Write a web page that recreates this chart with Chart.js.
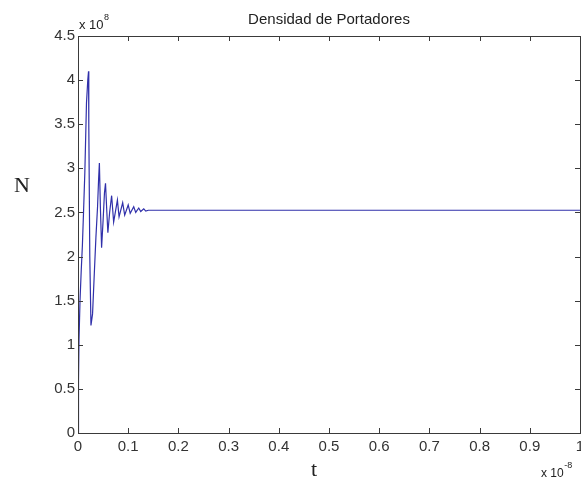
<!DOCTYPE html>
<html>
<head>
<meta charset="utf-8">
<script src="https://cdn.jsdelivr.net/npm/chart.js@4.4.1/dist/chart.umd.min.js"></script>
<style>
  html, body { margin: 0; padding: 0; background: #fff; }
  #wrap { width: 581px; height: 483px; position: relative; }
</style>
</head>
<body>
<div id="wrap"><canvas id="lineChart"></canvas></div>
<script>
// time (x 1e-8 s) and carrier density (x 1e8)
const tVals = [
  0, 0.001, 0.002, 0.004, 0.0065, 0.0087, 0.011, 0.0136, 0.0169, 0.0195, 0.021,
  0.0215, 0.0235, 0.0258, 0.029, 0.0325, 0.0357, 0.039, 0.041, 0.0426,
  0.0446, 0.047, 0.050, 0.0527, 0.0548, 0.0575, 0.0595, 0.063, 0.067,
  0.071, 0.0785, 0.0818, 0.089, 0.093, 0.100, 0.104, 0.111, 0.115,
  0.121, 0.125, 0.131, 0.135, 0.14, 1.0
];
const nVals = [
  0, 0.6, 1.05, 1.5, 1.85, 2.12, 2.5, 2.95, 3.74, 4.0, 4.10,
  3.5, 2.0, 1.22, 1.35, 1.81, 2.22, 2.57, 2.87, 3.06,
  2.56, 2.10, 2.41, 2.72, 2.83, 2.5, 2.27, 2.5, 2.69,
  2.39, 2.64, 2.45, 2.61, 2.47, 2.585, 2.49, 2.565, 2.50,
  2.55, 2.51, 2.54, 2.515, 2.525, 2.525
];
const xTicksStep = 0.1;
const yTicksStep = 0.5;

const axisColor = '#3a3a3a';
const sans = '"Liberation Sans", Arial, sans-serif';
const fmt = v => String(+v.toFixed(2));

// MATLAB style box with inward ticks and the extra texts
const matlabBox = {
  id: 'matlabBox',
  afterDraw(chart) {
    const { ctx, chartArea: a, scales } = chart;
    ctx.save();
    ctx.strokeStyle = axisColor;
    ctx.lineWidth = 1;
    ctx.strokeRect(Math.round(a.left) + 0.5, Math.round(a.top) + 0.5,
      Math.round(a.right - a.left), Math.round(a.bottom - a.top));
    ctx.beginPath();
    scales.x.ticks.forEach(t => {
      const px = Math.round(scales.x.getPixelForValue(t.value)) + 0.5;
      ctx.moveTo(px, a.bottom); ctx.lineTo(px, a.bottom - 5);
      ctx.moveTo(px, a.top); ctx.lineTo(px, a.top + 5);
    });
    scales.y.ticks.forEach(t => {
      const py = Math.round(scales.y.getPixelForValue(t.value)) + 0.5;
      ctx.moveTo(a.left, py); ctx.lineTo(a.left + 5, py);
      ctx.moveTo(a.right, py); ctx.lineTo(a.right - 5, py);
    });
    ctx.stroke();

    ctx.fillStyle = '#222';
    ctx.textAlign = 'center';
    ctx.textBaseline = 'alphabetic';
    ctx.font = '15px ' + sans;
    ctx.fillText('Densidad de Portadores', 329, 24);

    ctx.font = '22px "Liberation Serif", "Times New Roman", serif';
    ctx.fillText('N', 22, 192);
    ctx.fillText('t', 314, 476);

    ctx.textAlign = 'left';
    ctx.font = '13px ' + sans;
    ctx.fillText('x 10', 79, 29);
    let w = ctx.measureText('x 10').width;
    ctx.font = '9px ' + sans;
    ctx.fillText('8', 79 + w + 0.5, 20);

    ctx.font = '12px ' + sans;
    ctx.fillText('x 10', 541, 477);
    w = ctx.measureText('x 10').width;
    ctx.font = '9px ' + sans;
    ctx.fillText('-8', 541 + w + 0.5, 468);
    ctx.restore();
  }
};

const ctx = document.getElementById('lineChart').getContext('2d');
const lineChart = new Chart(ctx, {
  type: 'line',
  data: {
    datasets: [{
      data: tVals.map((t, i) => ({ x: t, y: nVals[i] })),
      borderColor: '#3030aa',
      borderWidth: 1.2,
      pointRadius: 0,
      tension: 0,
      fill: false
    }]
  },
  options: {
    responsive: true,
    maintainAspectRatio: false,
    animation: false,
    layout: { padding: { top: 36, right: 1, left: 0, bottom: 0 } },
    plugins: {
      legend: { display: false },
      tooltip: { enabled: false }
    },
    scales: {
      x: {
        type: 'linear',
        min: 0,
        max: 1,
        grid: { display: false, drawTicks: false },
        border: { display: false },
        ticks: {
          stepSize: xTicksStep,
          padding: 5,
          maxRotation: 0,
          autoSkip: false,
          color: '#333',
          font: { family: sans, size: 15 },
          callback: v => fmt(v)
        },
        afterFit: s => { s.height = 50; s.paddingLeft = 0; s.paddingRight = 0; }
      },
      y: {
        min: 0,
        max: 4.5,
        grid: { display: false, drawTicks: false },
        border: { display: false },
        ticks: {
          stepSize: yTicksStep,
          padding: 3,
          autoSkip: false,
          color: '#333',
          font: { family: sans, size: 15 },
          callback: v => fmt(v)
        },
        afterFit: s => { s.width = 78; s.paddingTop = 0; s.paddingBottom = 0; }
      }
    }
  },
  plugins: [matlabBox]
});
</script>
</body>
</html>
